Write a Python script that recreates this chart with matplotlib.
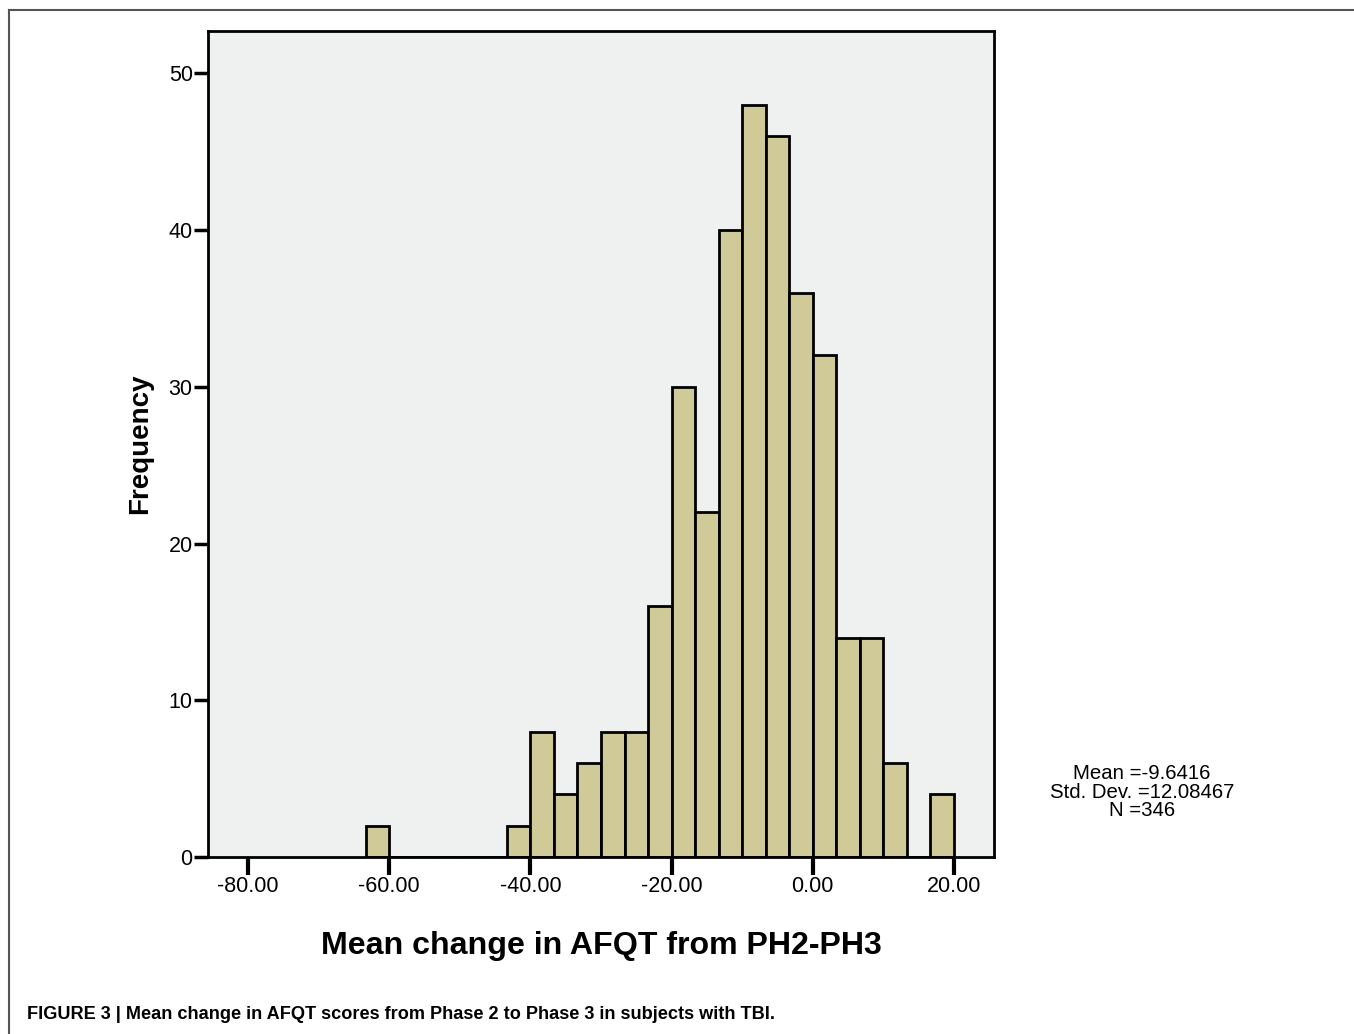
import numpy as np
import matplotlib
matplotlib.use("Agg")
import matplotlib.pyplot as plt
from matplotlib.lines import Line2D

plt.rcParams['font.family'] = ['Liberation Sans', 'DejaVu Sans']

# histogram of mean change in AFQT (PH2 -> PH3), bin width 10/3
first_edge = -63.333
bin_width = 10.0 / 3
counts = [2, 0, 0, 0, 0, 0, 2, 8, 4, 6, 8, 8, 16, 30, 22, 40, 48, 46, 36,
          32, 14, 14, 6, 0, 4]
xticks = [-80, -60, -40, -20, 0, 20]
yticks = [0, 10, 20, 30, 40, 50]
stats = ["Mean =-9.6416", "Std. Dev. =12.08467", "N =346"]

edges = first_edge + bin_width * np.arange(len(counts) + 1)

fig = plt.figure(figsize=(13.54, 10.34), dpi=100)
ax = fig.add_axes([0.1536, 0.1712, 0.5805, 0.7988])
ax.set_facecolor('#eff0f0')

ax.hist(edges[:-1], bins=edges, weights=counts, color='#cfca97',
        edgecolor='black', linewidth=2)

ax.set_xlim(-85.67, 25.67)
ax.set_ylim(0, 52.7)
ax.set_xticks(xticks)
ax.set_xticklabels(['%.2f' % v for v in xticks])
ax.set_yticks(yticks)
for s in ax.spines.values():
    s.set_linewidth(2)
ax.tick_params(axis='y', direction='out', length=10, width=2.5, labelsize=15.5, pad=1)
ax.tick_params(axis='x', direction='out', length=13, width=3, labelsize=15.5, pad=1)

ax.set_xlabel('Mean change in AFQT from PH2-PH3', fontsize=23.1, fontweight='bold',
              labelpad=24)
ax.set_ylabel('Frequency', fontsize=20, fontweight='bold', labelpad=11)

fig.text(0.8435, 0.234, "\n".join(stats), ha='center', va='center',
         fontsize=14.7, linespacing=0.98)

fig.text(0.02, 0.019, 'FIGURE 3 | Mean change in AFQT scores from Phase 2 to Phase 3 in subjects with TBI.',
         fontsize=13.1, fontweight='bold', ha='left', va='center')

# page frame
fig.add_artist(Line2D([9 / 1354, 1], [1 - 10 / 1034, 1 - 10 / 1034],
                      color='#555555', linewidth=1.5, transform=fig.transFigure))
fig.add_artist(Line2D([9 / 1354, 9 / 1354], [0, 1 - 10 / 1034],
                      color='#555555', linewidth=1.5, transform=fig.transFigure))

fig.savefig('out.png', dpi=100)
